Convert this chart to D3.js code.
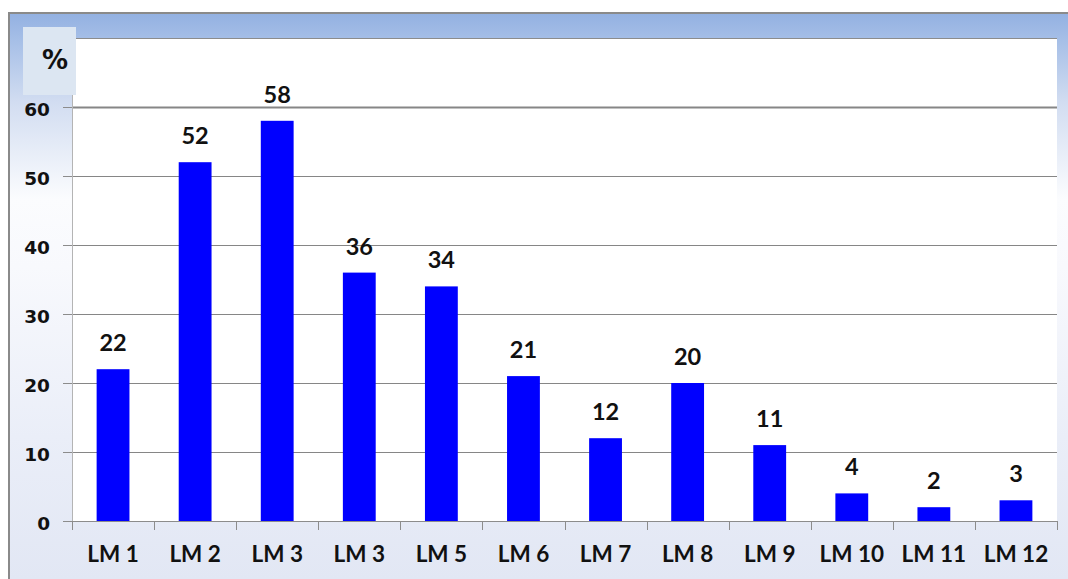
<!DOCTYPE html>
<html>
<head>
<meta charset="utf-8">
<script src="https://cdn.jsdelivr.net/npm/d3@7"></script>
<style>
  body { margin: 0; background: #fff; }
  svg { display: block; }
</style>
</head>
<body>
<div id="chart-area"></div>
<script>
// chart data
var categories = ['LM 1', 'LM 2', 'LM 3', 'LM 3', 'LM 5', 'LM 6', 'LM 7', 'LM 8', 'LM 9', 'LM 10', 'LM 11', 'LM 12'];
var values = [22, 52, 58, 36, 34, 21, 12, 20, 11, 4, 2, 3];
var yTicks = [0, 10, 20, 30, 40, 50, 60];
var yUnit = '%';

var W = 1068, H = 579;
var plot = { left: 72, right: 1057, top: 38, bottom: 521 };

var svg = d3.select('#chart-area')
  .append('svg')
    .attr('width', W)
    .attr('height', H);

// background gradient of the chart frame
var defs = svg.append('defs');
var grad = defs.append('linearGradient')
  .attr('id', 'bg')
  .attr('x1', 0).attr('y1', 0).attr('x2', 0).attr('y2', 1);
[[0, '#92b0e1'], [0.05, '#a6bfe7'], [0.16, '#d2ddf1'], [0.33, '#fbfcfe'],
 [0.45, '#f8f9fd'], [0.75, '#eaeef8'], [1, '#e2e7f4']].forEach(s => {
  grad.append('stop').attr('offset', s[0]).attr('stop-color', s[1]);
});

svg.append('rect')
  .attr('x', 8).attr('y', 12)
  .attr('width', W - 8).attr('height', H - 12)
  .attr('fill', 'url(#bg)');

// frame border (top and left)
svg.append('path')
  .attr('d', 'M9,' + H + 'V13H' + W)
  .attr('fill', 'none')
  .attr('stroke', '#8a8a8a')
  .attr('stroke-width', 2);

// plot area
svg.append('rect')
  .attr('x', plot.left).attr('y', plot.top)
  .attr('width', plot.right - plot.left)
  .attr('height', plot.bottom - plot.top)
  .attr('fill', '#fff');

svg.append('line')
  .attr('x1', plot.left).attr('x2', plot.right)
  .attr('y1', plot.top + 0.5).attr('y2', plot.top + 0.5)
  .attr('stroke', '#8c8c8c');

// scales
var xScale = d3.scaleBand()
  .domain(d3.range(categories.length))
  .range([plot.left, plot.right])
  .paddingInner(0.6)
  .paddingOuter(0.3);

var yScale = d3.scaleLinear()
  .domain([0, 60])
  .range([plot.bottom, 107]);

// gridlines
svg.append('g')
  .selectAll('line')
  .data(yTicks.filter(t => t > 0))
  .enter()
  .append('line')
    .attr('x1', plot.left).attr('x2', plot.right)
    .attr('y1', d => Math.round(yScale(d)) + 0.5)
    .attr('y2', d => Math.round(yScale(d)) + 0.5)
    .attr('stroke', '#868686')
    .attr('stroke-width', d => d === 60 ? 2 : 1);

// y axis
var yAxisGroup = svg.append('g')
  .attr('transform', 'translate(' + plot.left + ',0)')
  .call(d3.axisLeft(yScale).tickValues(yTicks).tickSize(9).tickPadding(13));

yAxisGroup.select('.domain').remove();
yAxisGroup.selectAll('.tick line').attr('stroke', '#8c8c8c');
yAxisGroup.selectAll('.tick text')
  .attr('dy', '0.46em')
  .attr('font-family', '"DejaVu Sans", sans-serif')
  .attr('font-weight', 'bold')
  .attr('font-size', '18.5px')
  .attr('fill', '#111');

// y axis line
svg.append('line')
  .attr('x1', plot.left + 0.5).attr('x2', plot.left + 0.5)
  .attr('y1', plot.top).attr('y2', plot.bottom + 8)
  .attr('stroke', '#b4b4b4');

// x axis
var xAxisGroup = svg.append('g')
  .attr('transform', 'translate(0,' + plot.bottom + ')')
  .call(d3.axisBottom(xScale).tickSize(0).tickPadding(25).tickFormat(i => categories[i]));

xAxisGroup.select('.domain').remove();
xAxisGroup.selectAll('.tick text')
  .attr('font-family', 'Lato, sans-serif')
  .attr('font-weight', 'bold')
  .attr('font-size', '22.5px')
  .attr('fill', '#111');

xAxisGroup.append('line')
  .attr('x1', plot.left).attr('x2', plot.right)
  .attr('y1', 0.5).attr('y2', 0.5)
  .attr('stroke', '#8c8c8c');

// tick marks between categories
var halfGap = xScale.step() * xScale.paddingInner() / 2;
var bounds = d3.range(categories.length + 1).map(i =>
  i < categories.length ? xScale(i) - halfGap : xScale(i - 1) + xScale.bandwidth() + halfGap);

xAxisGroup.selectAll('.bound')
  .data(bounds)
  .enter()
  .append('line')
    .attr('class', 'bound')
    .attr('x1', d => Math.round(d) + 0.5).attr('x2', d => Math.round(d) + 0.5)
    .attr('y1', 0).attr('y2', 9)
    .attr('stroke', '#8c8c8c');

// bars
svg.append('g')
  .selectAll('rect')
  .data(values)
  .enter()
  .append('rect')
    .attr('x', (d, i) => xScale(i))
    .attr('y', d => yScale(d))
    .attr('width', xScale.bandwidth())
    .attr('height', d => plot.bottom - yScale(d))
    .attr('fill', '#0000ff');

// value labels
svg.append('g')
  .selectAll('text')
  .data(values)
  .enter()
  .append('text')
    .attr('x', (d, i) => xScale(i) + xScale.bandwidth() / 2)
    .attr('y', d => yScale(d) - 18)
    .attr('text-anchor', 'middle')
    .attr('font-family', 'Lato, sans-serif')
    .attr('font-weight', 'bold')
    .attr('font-size', '23.5px')
    .attr('fill', '#111')
    .text(d => d);

// unit label box
svg.append('rect')
  .attr('x', 23).attr('y', 27)
  .attr('width', 53).attr('height', 68)
  .attr('fill', '#dce6f2');

svg.append('text')
  .attr('x', 55)
  .attr('y', 69)
  .attr('text-anchor', 'middle')
  .attr('font-family', '"DejaVu Sans", sans-serif')
  .attr('font-weight', 'bold')
  .attr('font-size', '26px')
  .attr('fill', '#111')
  .text(yUnit);
</script>
</body>
</html>
